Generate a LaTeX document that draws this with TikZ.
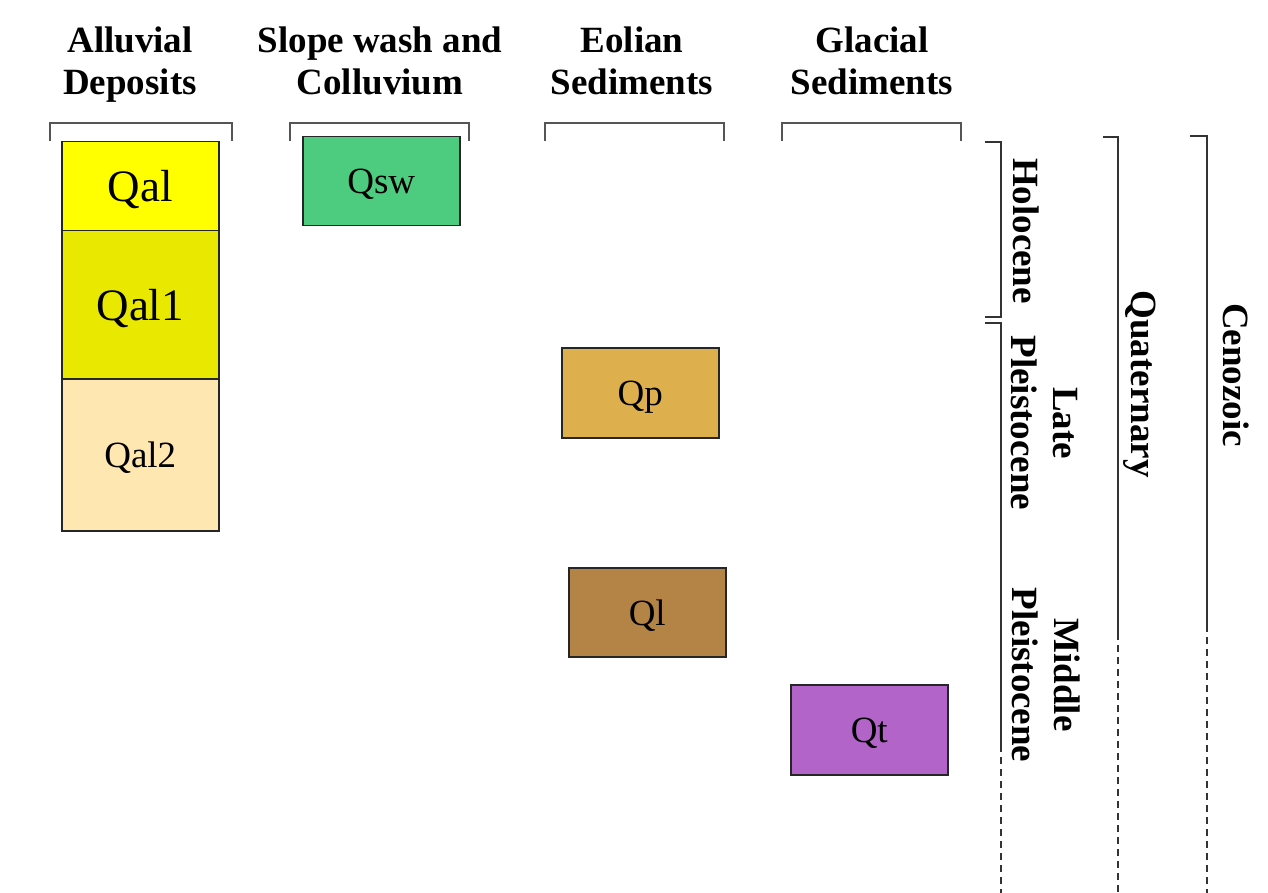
\documentclass[tikz,border=0pt]{standalone}
\usepackage{fontspec}
\setmainfont{Liberation Serif}
\definecolor{cQal}{HTML}{FFFF00}
\definecolor{cQalA}{HTML}{E8E800}
\definecolor{cQalB}{HTML}{FEE7B0}
\definecolor{cQsw}{HTML}{4DCB7E}
\definecolor{cQp}{HTML}{DEB04D}
\definecolor{cQl}{HTML}{B38446}
\definecolor{cQt}{HTML}{B264C8}
\definecolor{brk}{HTML}{555555}
\tikzset{
  unitbox/.style={draw=black!85, line width=1.5pt, minimum width=157pt, inner sep=0pt, text depth=0pt, anchor=north west, font=\fontsize{37}{40}\selectfont},
  bigtxt/.style={font=\fontsize{45}{48}\selectfont},
  header/.style={align=center, font=\bfseries\fontsize{37}{42}\selectfont, inner sep=0pt},
  vlabel/.style={align=center, rotate=-90, font=\bfseries\fontsize{37}{42}\selectfont, inner sep=0pt},
  topbracket/.style={draw=brk, line width=1.5pt},
  sidebracket/.style={draw=black!80, line width=1.5pt},
  sidedash/.style={draw=black!80, line width=1.5pt, dash pattern=on 7pt off 5pt}
}
\begin{document}
\begin{tikzpicture}[x=1pt,y=-1pt]
\useasboundingbox (0,0) rectangle (1268,893);
% headers
\node[header] (h1) at (130,65) {Alluvial\\Deposits};
\node[header] (h2) at (380,61) {Slope wash and\\Colluvium};
\node[header] (h3) at (632,61) {Eolian\\Sediments};
\node[header] (h4) at (872,61) {Glacial\\Sediments};
% top brackets
\draw[topbracket] (50,141) -- (50,123) -- (232,123) -- (232,141);
\draw[topbracket] (290,141) -- (290,123) -- (469,123) -- (469,141);
\draw[topbracket] (545,141) -- (545,123) -- (724,123) -- (724,141);
\draw[topbracket] (782,141) -- (782,123) -- (961,123) -- (961,141);
% boxes
\node[unitbox, fill=cQal, minimum height=89pt, bigtxt] (qal) at (61,141) {Qal};
\node[unitbox, fill=cQalA, minimum height=148pt, bigtxt] (qal1) at (61,230) {Qal1};
\node[unitbox, fill=cQalB, minimum height=152pt] (qal2) at (61,378) {Qal2};
\node[unitbox, fill=cQsw, minimum height=89pt] (qsw) at (302,136) {Qsw};
\node[unitbox, fill=cQp, minimum height=90pt] (qp) at (561,347) {Qp};
\node[unitbox, fill=cQl, minimum height=89pt] (ql) at (568,567) {Ql};
\node[unitbox, fill=cQt, minimum height=90pt] (qt) at (790,684) {Qt};
% side brackets
\draw[sidebracket] (985,142) -- (1001,142) -- (1001,317) -- (985,317);
\draw[sidebracket] (985,323) -- (1001,323) -- (1001,745);
\draw[sidedash] (1001,745) -- (1001,893);
\draw[sidebracket] (1103,137) -- (1118,137) -- (1118,633);
\draw[sidedash] (1118,633) -- (1118,893);
\draw[sidebracket] (1190,136) -- (1207,136) -- (1207,625);
\draw[sidedash] (1207,625) -- (1207,893);
% vertical labels
\node[vlabel] (holo) at (1026,231) {Holocene};
\node[vlabel] (late) at (1044,423) {Late\\Pleistocene};
\node[vlabel] (mid) at (1046,675) {Middle\\Pleistocene};
\node[vlabel] (quat) at (1140,384) {Quaternary};
\node[vlabel] (ceno) at (1236,375) {Cenozoic};
\end{tikzpicture}
\end{document}
